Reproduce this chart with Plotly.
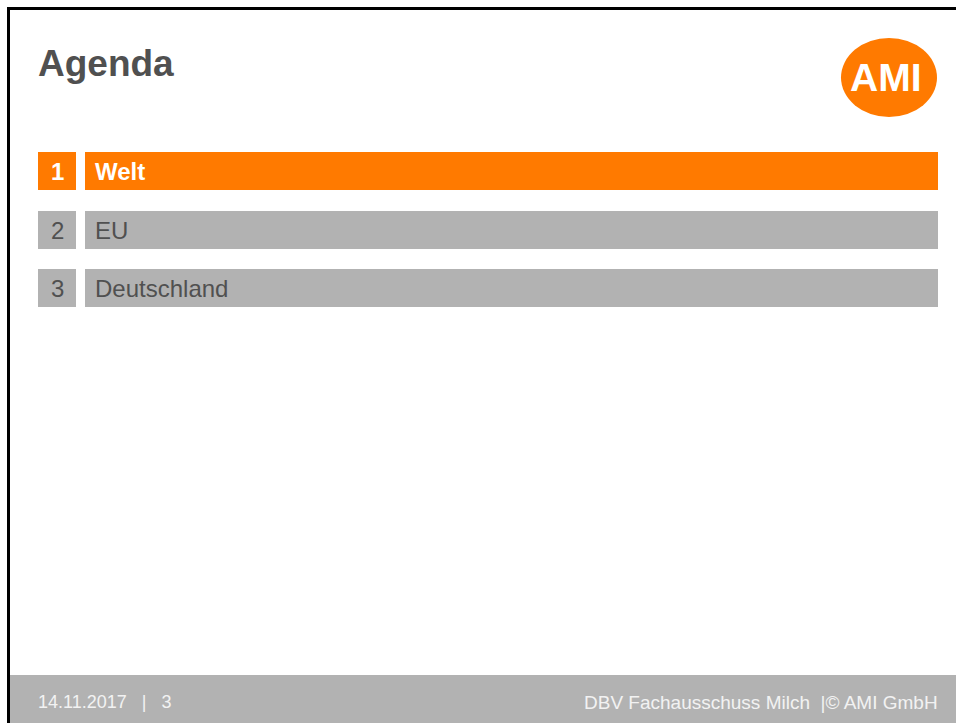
import plotly.graph_objects as go

# ---- content ----
title_text = "Agenda"
item_numbers = ["1", "2", "3"]
item_labels = ["Welt", "EU", "Deutschland"]
active_item = 0
footer_left = "14.11.2017   |   3"
footer_right = "DBV Fachausschuss Milch  |© AMI GmbH"
logo_text = "AMI"

# ---- style ----
W, H = 956, 723
ORANGE = "#FF7A00"
GREY = "#B2B2B2"
DARK = "#505050"
FONT = "Liberation Sans, Arial, sans-serif"

row_y = [171, 230, 288]
row_h = 38
num_x0, num_w = 38, 38
bar_x0, bar_x1 = 85, 938

fig = go.Figure()

colors = [ORANGE if i == active_item else GREY for i in range(len(item_labels))]

# number boxes
fig.add_trace(go.Bar(
    orientation="h", y=row_y, x=[num_w] * len(item_numbers), base=[num_x0] * len(item_numbers),
    width=row_h, marker=dict(color=colors, line=dict(width=0)), hoverinfo="skip", showlegend=False))
# label bars
fig.add_trace(go.Bar(
    orientation="h", y=row_y, x=[bar_x1 - bar_x0] * len(item_labels), base=[bar_x0] * len(item_labels),
    width=row_h, marker=dict(color=colors, line=dict(width=0)), hoverinfo="skip", showlegend=False))

annotations = []
for i, (n, lab) in enumerate(zip(item_numbers, item_labels)):
    active = i == active_item
    col = "white" if active else DARK
    txt_n = f"<b>{n}</b>" if active else n
    txt_l = f"<b>{lab}</b>" if active else lab
    annotations.append(dict(x=num_x0 + num_w / 2, y=row_y[i], text=txt_n, showarrow=False,
                            xanchor="center", yanchor="middle",
                            font=dict(family=FONT, size=24, color=col)))
    annotations.append(dict(x=bar_x0 + 10, y=row_y[i], text=txt_l, showarrow=False,
                            xanchor="left", yanchor="middle", xshift=-2,
                            font=dict(family=FONT, size=24, color=col)))

# title
annotations.append(dict(x=36, y=63, text=f"<b>{title_text}</b>", showarrow=False,
                        xanchor="left", yanchor="middle",
                        font=dict(family=FONT, size=37, color=DARK)))
# logo text
annotations.append(dict(x=886, y=77, text=f"<b>{logo_text}</b>", showarrow=False,
                        xanchor="center", yanchor="middle",
                        font=dict(family=FONT, size=39, color="white")))
# footer
annotations.append(dict(x=36, y=702, text=footer_left, showarrow=False,
                        xanchor="left", yanchor="middle",
                        font=dict(family=FONT, size=18, color="#F2F2F2")))
annotations.append(dict(x=940, y=702, text=footer_right, showarrow=False,
                        xanchor="right", yanchor="middle",
                        font=dict(family=FONT, size=19, color="#F2F2F2")))

shapes = [
    # footer band
    dict(type="rect", xref="x", yref="y", x0=10, x1=W, y0=675, y1=H,
         fillcolor=GREY, line=dict(width=0), layer="below"),
    # logo ellipse
    dict(type="circle", xref="x", yref="y", x0=841, x1=937, y0=38, y1=117,
         fillcolor=ORANGE, line=dict(width=0), layer="below"),
    # frame: top and left border
    dict(type="rect", xref="x", yref="y", x0=7, x1=W, y0=7, y1=10,
         fillcolor="black", line=dict(width=0)),
    dict(type="rect", xref="x", yref="y", x0=7, x1=10, y0=7, y1=H,
         fillcolor="black", line=dict(width=0)),
]

fig.update_layout(
    width=W, height=H,
    margin=dict(l=0, r=0, t=0, b=0),
    paper_bgcolor="white", plot_bgcolor="white",
    xaxis=dict(range=[0, W], visible=False, fixedrange=True),
    yaxis=dict(range=[H, 0], visible=False, fixedrange=True),
    barmode="overlay",
    annotations=annotations,
    shapes=shapes,
    showlegend=False,
)

fig.write_html(
    "out.html",
    config={"displayModeBar": False},
    post_script="document.body.style.margin='0';document.body.style.overflow='hidden';",
)
